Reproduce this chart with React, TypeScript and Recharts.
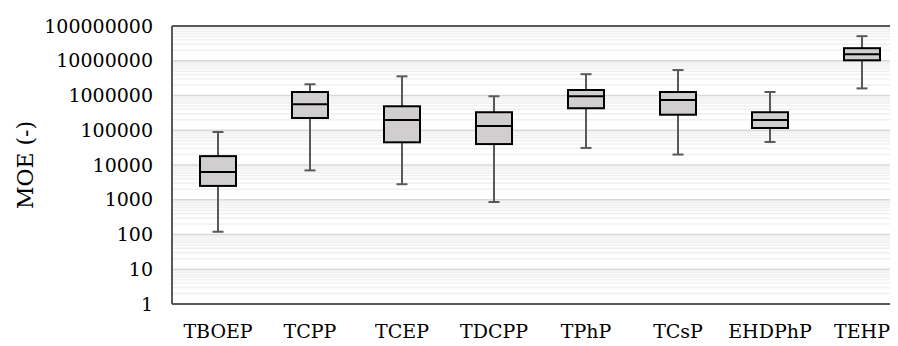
import {
  ComposedChart,
  Bar,
  XAxis,
  YAxis,
  CartesianGrid,
  ReferenceLine,
  Label,
} from "recharts"

const serif = "DejaVu Serif"
const axisGray = "#595959"
const boxFill = "#d0cece"

const categories = ["TBOEP", "TCPP", "TCEP", "TDCPP", "TPhP", "TCsP", "EHDPhP", "TEHP"]
const whiskerLow = [120, 7000, 2800, 860, 31000, 20000, 46000, 1600000]
const q1 = [2500, 225000, 45000, 40000, 430000, 280000, 116000, 10300000]
const median = [6300, 560000, 196000, 132000, 950000, 740000, 196000, 15400000]
const q3 = [18000, 1260000, 490000, 330000, 1440000, 1260000, 330000, 23000000]
const whiskerHigh = [89000, 2100000, 3560000, 950000, 4100000, 5400000, 1260000, 51000000]

const majorTicks = [1, 10, 100, 1000, 10000, 100000, 1000000, 10000000, 100000000]
const minorSteps = [2, 3, 4, 5, 6, 7, 8, 9]
const minorTicks = majorTicks.slice(0, -1).flatMap((d) => minorSteps.map((s) => d * s))

const data = categories.map((name, i) => ({
  name,
  range: [whiskerLow[i], whiskerHigh[i]],
  low: whiskerLow[i],
  q1: q1[i],
  median: median[i],
  q3: q3[i],
  high: whiskerHigh[i],
}))

// box drawn inside the bar's [low, high] span, positions interpolated in log space
function BoxShape(props: any) {
  const { x, y, width, height, payload } = props
  if (!payload || height == null) return null
  const hi = Math.log10(payload.high)
  const lo = Math.log10(payload.low)
  const py = (v: number) => y + ((hi - Math.log10(v)) / (hi - lo)) * height
  const cx = x + width / 2
  const cap = 11
  const yHigh = py(payload.high)
  const yLow = py(payload.low)
  const yQ3 = py(payload.q3)
  const yQ1 = py(payload.q1)
  const yMed = py(payload.median)
  return (
    <g>
      <line x1={cx} x2={cx} y1={yHigh} y2={yQ3} stroke={axisGray} strokeWidth={2} />
      <line x1={cx} x2={cx} y1={yQ1} y2={yLow} stroke={axisGray} strokeWidth={2} />
      <line x1={cx - cap / 2} x2={cx + cap / 2} y1={yHigh} y2={yHigh} stroke={axisGray} strokeWidth={2} />
      <line x1={cx - cap / 2} x2={cx + cap / 2} y1={yLow} y2={yLow} stroke={axisGray} strokeWidth={2} />
      <rect x={x} y={yQ3} width={width} height={yQ1 - yQ3} fill={boxFill} stroke="#000" strokeWidth={2} />
      <line x1={x} x2={x + width} y1={yMed} y2={yMed} stroke="#000" strokeWidth={2} />
    </g>
  )
}

function YTitle(props: any) {
  const vb = props.viewBox || {}
  const cy = (vb.y ?? 0) + (vb.height ?? 0) / 2
  const cx = 17
  return (
    <text
      x={cx}
      y={cy}
      transform={`rotate(-90, ${cx}, ${cy})`}
      textAnchor="middle"
      dominantBaseline="central"
      fontFamily={serif}
      fontSize={22}
      fill="#000"
    >
      MOE (-)
    </text>
  )
}

export default function App() {
  return (
    <div style={{ width: 890, height: 338, overflow: "hidden" }}>
      <ComposedChart
        width={905}
        height={338}
        data={data}
        margin={{ top: 18, right: 5, bottom: 0, left: 0 }}
      >
        <CartesianGrid
          vertical={false}
          syncWithTicks={false}
          horizontalValues={minorTicks}
          stroke="#f0f0f0"
          strokeWidth={1.5}
        />
        <CartesianGrid vertical={false} stroke="#d9d9d9" strokeWidth={1.5} />
        <XAxis
          dataKey="name"
          height={42}
          tickLine={false}
          tickSize={0}
          tickMargin={21}
          axisLine={{ stroke: axisGray, strokeWidth: 2 }}
          tick={{ fill: "#000", fontFamily: serif, fontSize: 19 }}
          interval={0}
        />
        <YAxis
          scale="log"
          domain={[1, 100000000]}
          ticks={majorTicks}
          allowDataOverflow
          width={164}
          tickLine={false}
          tickSize={0}
          tickMargin={19}
          axisLine={{ stroke: axisGray, strokeWidth: 2 }}
          tick={{ fill: "#000", fontFamily: serif, fontSize: 19 }}
          tickFormatter={(v) => String(v)}
          interval={0}
        >
          <Label content={<YTitle />} />
        </YAxis>
        <ReferenceLine y={100000000} stroke={axisGray} strokeWidth={2} />
        <Bar dataKey="range" barSize={36} shape={<BoxShape />} isAnimationActive={false} />
      </ComposedChart>
    </div>
  )
}
